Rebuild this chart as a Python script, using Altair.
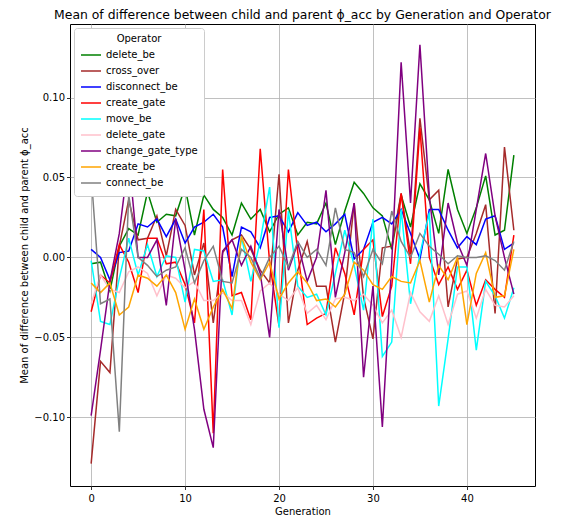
import altair as alt
import pandas as pd

generations = list(range(46))

operators = ["delete_be", "cross_over", "disconnect_be", "create_gate", "move_be",
             "delete_gate", "change_gate_type", "create_be", "connect_be"]
colors = ["green", "brown", "blue", "red", "cyan", "pink", "purple", "orange", "gray"]

delete_be = [-0.004, -0.003, -0.021, 0.007, 0.018, 0.014, 0.041, 0.022, 0.027, 0.026,
             0.044, 0.014, 0.039, 0.030, 0.025, 0.014, 0.034, 0.024, 0.030, 0.016,
             0.027, 0.031, 0.014, 0.022, 0.021, 0.034, 0.008, 0.029, 0.047, 0.040,
             0.031, 0.026, 0.005, 0.039, 0.019, 0.046, 0.036, 0.015, 0.055, 0.030,
             0.015, 0.031, 0.051, 0.014, 0.017, 0.064]
cross_over = [-0.129, -0.065, -0.072, 0.007, 0.036, 0.011, 0.012, 0.026, 0.001, 0.030,
              0.020, -0.011, 0.009, -0.041, 0.003, 0.011, 0.014, 0.005, -0.008, -0.016,
              0.052, -0.041, -0.008, 0.010, -0.018, -0.018, -0.053, -0.022, 0.034, -0.025,
              -0.051, 0.006, 0.007, 0.040, 0.002, 0.087, 0.036, 0.042, -0.031, -0.001,
              0.000, 0.015, 0.033, -0.035, 0.069, 0.017]
disconnect_be = [0.005, 0.000, -0.014, 0.003, 0.004, 0.021, 0.019, 0.024, 0.013, 0.024,
                 0.009, 0.019, 0.022, 0.027, 0.019, -0.012, 0.019, 0.016, 0.006, 0.025,
                 0.026, 0.016, 0.028, 0.020, 0.022, 0.016, 0.021, 0.027, -0.001, 0.005,
                 0.022, 0.025, 0.021, 0.030, 0.015, -0.001, 0.030, 0.030, 0.017, 0.006,
                 0.013, 0.008, 0.024, 0.026, 0.005, 0.009]
create_gate = [-0.034, -0.011, -0.016, 0.008, -0.003, -0.022, 0.012, 0.012, -0.004, -0.003,
               -0.017, -0.041, 0.030, -0.110, 0.055, -0.024, -0.022, -0.039, 0.068, -0.003,
               -0.043, 0.055, 0.003, -0.042, -0.038, -0.035, 0.006, -0.010, -0.036, 0.005,
               0.011, -0.037, -0.018, 0.040, -0.004, 0.081, 0.000, -0.017, -0.006, -0.020,
               -0.008, -0.030, -0.014, -0.020, -0.025, 0.014]
move_be = [-0.002, -0.040, -0.042, -0.013, 0.012, -0.011, 0.008, -0.012, 0.001, 0.000,
           -0.028, 0.005, 0.004, -0.015, -0.014, -0.036, 0.013, -0.015, 0.010, 0.044,
           -0.044, 0.029, -0.018, -0.025, -0.023, -0.036, -0.010, 0.017, -0.005, -0.033,
           0.024, -0.062, -0.053, 0.030, -0.029, 0.002, 0.028, -0.093, -0.051, -0.006,
           -0.006, -0.058, -0.015, -0.024, -0.038, -0.019]
delete_gate = [-0.029, -0.011, -0.020, -0.022, -0.009, -0.006, -0.010, -0.024, -0.011, -0.013,
               -0.019, -0.015, -0.027, -0.027, -0.022, -0.027, -0.027, -0.042, -0.021, -0.016,
               -0.023, -0.027, -0.019, -0.035, -0.030, -0.039, -0.026, -0.025, -0.027, -0.023,
               -0.030, -0.041, -0.033, -0.050, -0.022, -0.034, -0.040, -0.024, -0.042, -0.023,
               -0.021, -0.038, -0.020, -0.030, -0.031, -0.024]
change_gate_type = [-0.099, -0.058, -0.015, 0.015, 0.063, 0.000, 0.000, 0.011, -0.030, 0.024,
                    -0.008, -0.045, -0.095, -0.119, 0.004, 0.011, -0.005, 0.007, -0.010, -0.050,
                    0.030, -0.008, 0.009, -0.015, 0.000, 0.042, -0.025, 0.003, 0.034, -0.075,
                    -0.018, -0.106, -0.003, 0.122, 0.034, 0.133, 0.038, -0.011, 0.034, 0.009,
                    -0.005, 0.030, 0.065, 0.026, 0.000, -0.023]
create_be = [-0.016, -0.022, -0.016, -0.036, -0.031, -0.011, -0.013, -0.018, -0.011, -0.022,
             -0.045, -0.026, -0.045, -0.031, -0.020, -0.032, 0.013, -0.003, -0.014, -0.003,
             -0.026, -0.016, -0.009, -0.016, -0.027, -0.026, -0.031, -0.023, -0.003, -0.008,
             -0.017, -0.020, -0.012, -0.015, -0.016, -0.002, -0.028, -0.005, -0.014, 0.000,
             -0.042, -0.010, 0.003, -0.025, -0.024, 0.005]
connect_be = [0.052, -0.029, -0.026, -0.109, 0.039, 0.000, -0.005, -0.012, -0.008, -0.006,
              0.006, -0.016, -0.002, 0.007, -0.015, -0.016, 0.005, 0.000, -0.013, 0.000,
              0.007, -0.006, 0.010, 0.000, 0.005, -0.005, 0.031, 0.005, 0.003, -0.012,
              0.005, -0.004, 0.029, 0.010, 0.000, 0.015, 0.007, 0.002, -0.004, 0.001,
              0.000, 0.000, 0.001, -0.002, -0.008, 0.010]

series = [delete_be, cross_over, disconnect_be, create_gate, move_be,
          delete_gate, change_gate_type, create_be, connect_be]

rows = []
for i, (op, vals) in enumerate(zip(operators, series)):
    for g, v in zip(generations, vals):
        rows.append({"Generation": g, "value": v, "Operator": op, "idx": i})
df = pd.DataFrame(rows)

FONT = "DejaVu Sans"
ytitle = "Mean of difference between child and parent \u03d5_acc"

chart = alt.Chart(df).mark_line(strokeWidth=1.5, clip=True).encode(
    x=alt.X("Generation:Q",
            scale=alt.Scale(domain=[-2.25, 47.25], nice=False, zero=False),
            axis=alt.Axis(values=[0, 10, 20, 30, 40], title="Generation", format="d",
                          labelPadding=4, titlePadding=3)),
    y=alt.Y("value:Q",
            scale=alt.Scale(domain=[-0.143, 0.146], nice=False, zero=False),
            axis=alt.Axis(values=[-0.10, -0.05, 0.0, 0.05, 0.10], format=".2f", title=ytitle)),
    color=alt.Color("Operator:N",
                    scale=alt.Scale(domain=operators, range=colors),
                    legend=alt.Legend(title="Operator", orient="top-left", offset=4,
                                      fillColor="white", strokeColor="#cccccc",
                                      cornerRadius=3, padding=6,
                                      symbolType="stroke", symbolSize=400,
                                      symbolStrokeWidth=1.5, clipHeight=14, rowPadding=2,
                                      labelFontSize=10, titleFontSize=10,
                                      titleFontWeight="normal", titleAnchor="middle",
                                      labelFont=FONT, titleFont=FONT,
                                      labelColor="black", titleColor="black",
                                      titlePadding=4)),
    order=alt.Order("idx:Q"),
    detail="Operator:N",
).properties(
    width=465,
    height=462,
    title=alt.Title("Mean of difference between child and parent \u03d5_acc by Generation and Operator",
                    fontSize=12.4, fontWeight="normal", font=FONT, color="black",
                    anchor="middle", offset=3),
    autosize=alt.AutoSizeParams(type="none"),
    padding={"left": 62, "top": 16, "right": 20, "bottom": 31},
).configure_axis(
    domain=False,
    grid=True,
    gridColor="#b0b0b0",
    gridWidth=0.8,
    tickColor="black",
    tickSize=3.5,
    tickWidth=0.8,
    labelFont=FONT,
    labelFontSize=10,
    labelColor="black",
    labelPadding=2,
    titleFont=FONT,
    titleFontSize=10,
    titleFontWeight="normal",
    titleColor="black",
    titlePadding=4,
).configure_view(
    stroke="black",
    strokeWidth=1,
)

chart.save("out.html", embed_options={"renderer": "svg", "actions": False})
